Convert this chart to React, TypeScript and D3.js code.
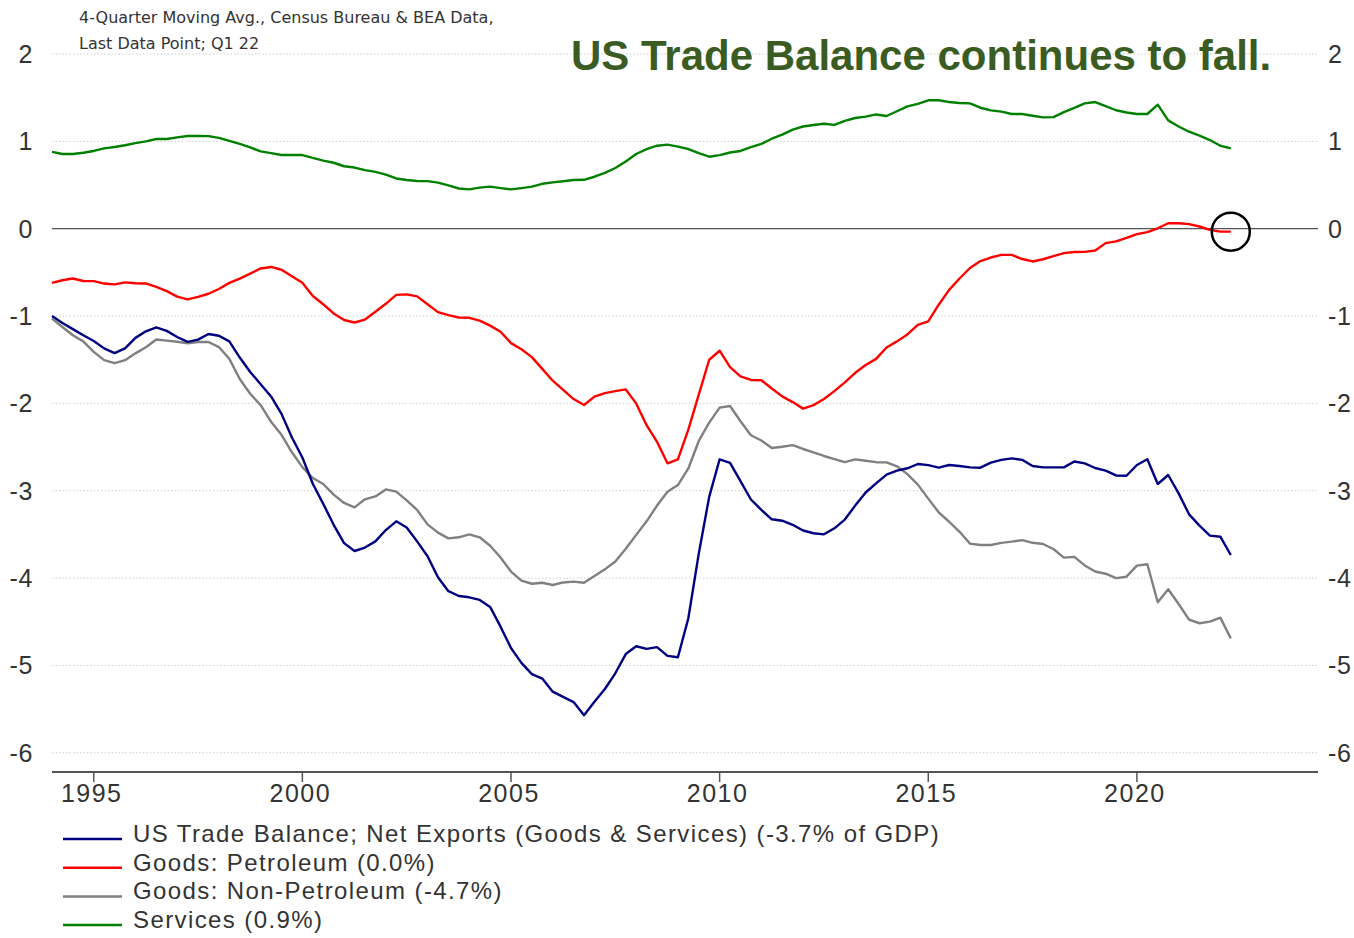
import React from "react";
import * as d3 from "d3";

const START_YEAR = 1994;
const balance = [-1.0,-1.08,-1.15,-1.22,-1.285,-1.37,-1.425,-1.37,-1.25,-1.175,
-1.13,-1.17,-1.24,-1.295,-1.27,-1.205,-1.225,-1.29,-1.475,-1.64,
-1.78,-1.92,-2.12,-2.39,-2.62,-2.92,-3.15,-3.39,-3.60,-3.69,
-3.65,-3.58,-3.45,-3.35,-3.42,-3.58,-3.75,-3.99,-4.15,-4.205,
-4.22,-4.25,-4.33,-4.556,-4.80,-4.97,-5.10,-5.15,-5.30,-5.36,
-5.42,-5.57,-5.415,-5.27,-5.09,-4.87,-4.78,-4.81,-4.79,-4.89,
-4.907,-4.46,-3.72,-3.07,-2.64,-2.68,-2.89,-3.10,-3.22,-3.327,
-3.343,-3.39,-3.455,-3.487,-3.499,-3.43,-3.33,-3.17,-3.02,-2.915,
-2.815,-2.77,-2.743,-2.694,-2.707,-2.736,-2.705,-2.717,-2.732,-2.736,
-2.679,-2.646,-2.629,-2.646,-2.717,-2.732,-2.732,-2.732,-2.665,-2.686,
-2.74,-2.77,-2.825,-2.828,-2.705,-2.64,-2.923,-2.82,-3.03,-3.27,
-3.40,-3.514,-3.526,-3.736];

const petroleum = [-0.62,-0.59,-0.57,-0.599,-0.60,-0.628,-0.638,-0.614,-0.625,-0.627,
-0.665,-0.715,-0.778,-0.81,-0.78,-0.745,-0.69,-0.62,-0.572,-0.515,
-0.455,-0.438,-0.47,-0.545,-0.62,-0.77,-0.865,-0.97,-1.045,-1.074,
-1.04,-0.95,-0.86,-0.758,-0.752,-0.775,-0.865,-0.955,-0.99,-1.017,
-1.02,-1.053,-1.11,-1.18,-1.31,-1.38,-1.47,-1.605,-1.74,-1.845,
-1.95,-2.018,-1.923,-1.882,-1.86,-1.84,-2.0,-2.25,-2.44,-2.686,
-2.64,-2.30,-1.90,-1.50,-1.397,-1.585,-1.69,-1.732,-1.735,-1.83,
-1.92,-1.985,-2.06,-2.02,-1.95,-1.86,-1.76,-1.65,-1.56,-1.49,
-1.36,-1.29,-1.21,-1.10,-1.06,-0.87,-0.70,-0.57,-0.45,-0.37,
-0.33,-0.30,-0.30,-0.347,-0.375,-0.35,-0.315,-0.28,-0.267,-0.265,
-0.25,-0.165,-0.145,-0.105,-0.062,-0.04,0.005,0.062,0.062,0.052,
0.025,-0.014,-0.034,-0.034];

const nonPetroleum = [-1.03,-1.125,-1.22,-1.29,-1.41,-1.505,-1.54,-1.505,-1.427,-1.357,
-1.268,-1.282,-1.295,-1.311,-1.297,-1.297,-1.355,-1.49,-1.72,-1.89,
-2.02,-2.21,-2.36,-2.56,-2.73,-2.855,-2.923,-3.045,-3.14,-3.19,
-3.098,-3.065,-2.985,-3.01,-3.11,-3.22,-3.385,-3.48,-3.545,-3.533,
-3.50,-3.533,-3.63,-3.765,-3.925,-4.03,-4.065,-4.053,-4.079,-4.05,
-4.041,-4.053,-3.976,-3.9,-3.81,-3.665,-3.505,-3.35,-3.17,-3.011,
-2.935,-2.745,-2.43,-2.22,-2.049,-2.03,-2.205,-2.365,-2.425,-2.51,
-2.496,-2.478,-2.522,-2.562,-2.602,-2.638,-2.672,-2.641,-2.656,-2.673,
-2.675,-2.72,-2.81,-2.93,-3.09,-3.247,-3.355,-3.47,-3.605,-3.621,
-3.621,-3.597,-3.583,-3.565,-3.596,-3.61,-3.667,-3.766,-3.757,-3.855,
-3.925,-3.95,-4.0,-3.984,-3.858,-3.842,-4.277,-4.128,-4.297,-4.475,
-4.517,-4.499,-4.453,-4.69];

const services = [0.88,0.855,0.855,0.87,0.89,0.92,0.935,0.955,0.98,1.0,
1.027,1.027,1.045,1.061,1.061,1.06,1.04,1.005,0.97,0.93,
0.885,0.865,0.844,0.844,0.843,0.81,0.78,0.755,0.715,0.70,
0.67,0.65,0.62,0.575,0.558,0.546,0.545,0.528,0.495,0.46,
0.45,0.47,0.482,0.465,0.45,0.465,0.482,0.514,0.53,0.543,
0.557,0.56,0.595,0.64,0.695,0.77,0.855,0.91,0.95,0.963,
0.94,0.912,0.865,0.824,0.842,0.872,0.89,0.933,0.97,1.03,
1.077,1.135,1.17,1.187,1.202,1.188,1.234,1.267,1.283,1.308,
1.29,1.345,1.40,1.43,1.47,1.47,1.45,1.439,1.435,1.385,
1.355,1.34,1.313,1.313,1.293,1.275,1.277,1.335,1.383,1.435,
1.45,1.403,1.356,1.33,1.313,1.313,1.42,1.24,1.17,1.11,
1.065,1.015,0.95,0.92];

const quarters = balance.map((_, i) => START_YEAR + i * 0.25);

const seriesNames = [
  "US Trade Balance; Net Exports (Goods & Services) (-3.7% of GDP)",
  "Goods: Petroleum (0.0%)",
  "Goods: Non-Petroleum (-4.7%)",
  "Services (0.9%)",
];
const seriesColors = ["#000080", "#ff0000", "#808080", "#008000"];
const seriesValues = [balance, petroleum, nonPetroleum, services];
const drawOrder = [2, 3, 1, 0];

const yTicks = [2, 1, 0, -1, -2, -3, -4, -5, -6];
const xTicks = [1995, 2000, 2005, 2010, 2015, 2020];
const title = "US Trade Balance continues to fall.";
const subtitle = ["4-Quarter Moving Avg., Census Bureau & BEA Data,", "Last Data Point; Q1 22"];

const W = 1354, H = 938;
const L = 52, R = 1318, T = 27.8, B = 772;

export default function App() {
  const x = d3.scaleLinear().domain([1994, 2024.34]).range([L, R]);
  const y = d3.scaleLinear().domain([-6.22, 2.3]).range([B, T]);
  const line = d3.line<number>().x((_, i) => x(quarters[i])).y((d) => y(d));
  const font = "'Liberation Sans', Arial, sans-serif";
  const lastIdx = quarters.length - 1;
  return (
    <svg width={W} height={H} style={{ position: "absolute", left: 0, top: 0, background: "#fff" }} fontFamily={font}>
      {yTicks.map((t) => (
        <g key={t}>
          {t !== 0 && (
            <line x1={L} x2={R} y1={y(t)} y2={y(t)} stroke="#cfcfcf" strokeWidth={1} strokeDasharray="1.5,2" />
          )}
          <text x={33} y={y(t) + 9} textAnchor="end" fontSize={25} fill="#333" letterSpacing={0.6}>{t}</text>
          <text x={1328} y={y(t) + 9} textAnchor="start" fontSize={25} fill="#333" letterSpacing={0.6}>{t}</text>
        </g>
      ))}
      <line x1={L} x2={R} y1={y(0)} y2={y(0)} stroke="#555" strokeWidth={1.3} />
      <text x={571} y={70} fontSize={42} fontWeight="bold" fill="#3a5c22">{title}</text>
      {subtitle.map((s, i) => (
        <text key={i} x={79} y={23 + i * 26} fontSize={16} fontFamily="'DejaVu Sans', sans-serif" fill="#333">{s}</text>
      ))}
      {drawOrder.map((k) => (
        <path key={k} d={line(seriesValues[k]) || ""} fill="none" stroke={seriesColors[k]} strokeWidth={2.4} strokeLinejoin="round" />
      ))}
      <circle cx={x(quarters[lastIdx])} cy={y(petroleum[lastIdx])} r={19} fill="none" stroke="#000" strokeWidth={2.5} />
      <line x1={L} x2={R} y1={B} y2={B} stroke="#555" strokeWidth={2} />
      {xTicks.map((t) => (
        <g key={t}>
          <line x1={x(t)} x2={x(t)} y1={B} y2={B + 10} stroke="#555" strokeWidth={1.5} />
          <text x={x(t) - 2} y={802} textAnchor="middle" fontSize={25} fill="#333" letterSpacing={1.5}>{t}</text>
        </g>
      ))}
      {seriesNames.map((n, i) => (
        <g key={n}>
          <line x1={63} x2={122} y1={839 + i * 28.7} y2={839 + i * 28.7} stroke={seriesColors[i]} strokeWidth={2.5} />
          <text x={133} y={842 + i * 28.7} fontSize={24} fill="#333" letterSpacing={1.4}>{n}</text>
        </g>
      ))}
    </svg>
  );
}
